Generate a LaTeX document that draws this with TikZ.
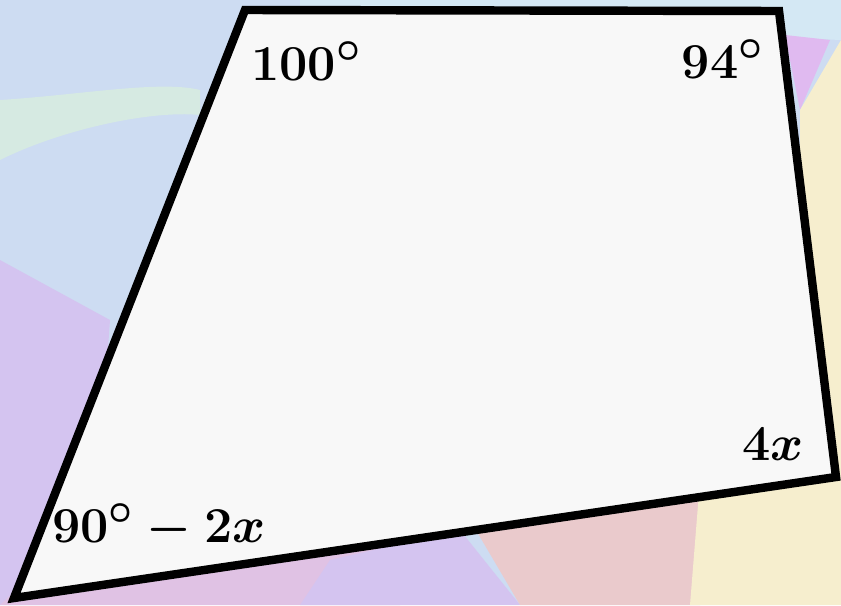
\documentclass[tikz,border=0pt]{standalone}
\usepackage{tikz}
\definecolor{PaleBlue}{RGB}{205,220,242}
\definecolor{PaleCyan}{RGB}{212,232,244}
\definecolor{PaleGreen}{RGB}{214,234,226}
\definecolor{PaleLilac}{RGB}{212,196,240}
\definecolor{PalePink}{RGB}{234,202,204}
\definecolor{PaleRose}{RGB}{224,194,228}
\definecolor{PaleYellow}{RGB}{246,238,206}
\definecolor{PaleViolet}{RGB}{224,186,240}
\definecolor{ShapeFill}{RGB}{248,248,248}
\tikzset{
  bgpatch/.style={draw=none},
  quadline/.style={draw=black,line width=4.8pt,line join=miter,fill=ShapeFill},
  anglelabel/.style={inner sep=0pt,scale=1.15,transform shape,
    font=\fontsize{24.88}{30}\selectfont\boldmath}
}
\begin{document}
\begin{tikzpicture}[x=0.02cm,y=-0.02cm]
      % background
      \fill[PaleBlue] (0,0) rectangle (841,605);
      \useasboundingbox (0,0) rectangle (841,605);
      \fill[bgpatch,PaleCyan] (300,0) -- (841,0) -- (841,40) -- (600,30) -- (300,25) -- cycle;
      \fill[bgpatch,PaleGreen] (0,100) .. controls (80,95) and (160,80) .. (200,90)
        -- (200,115) .. controls (150,110) and (60,130) .. (0,160) -- cycle;
      \fill[bgpatch,PaleLilac] (0,260) -- (110,320) -- (90,605) -- (0,605) -- cycle;
      \fill[bgpatch,PaleRose] (90,520) -- (450,530) -- (400,605) -- (0,605) -- cycle;
      \fill[bgpatch,PaleLilac] (330,560) -- (460,530) -- (520,605) -- (300,605) -- cycle;
      \fill[bgpatch,PalePink] (470,520) -- (700,470) -- (700,605) -- (520,605) -- cycle;
      \fill[bgpatch,PaleViolet] (785,35) -- (830,40) -- (800,110) -- cycle;
      \fill[bgpatch,PaleYellow] (800,110) -- (841,40) -- (841,605) -- (690,605) -- (700,480) -- (800,430) -- cycle;
      % quadrilateral
      \coordinate (tl) at (245,10);
      \coordinate (tr) at (779,11);
      \coordinate (br) at (836,477);
      \coordinate (bl) at (14,598);
      \draw[quadline] (tl) -- (tr) -- (br) -- (bl) -- cycle;
      % angle labels
      \node[anglelabel,anchor=base west] (angA) at (251,80) {$100^\circ$};
      \node[anglelabel,anchor=base east] (angB) at (764,78) {$94^\circ$};
      \node[anglelabel,anchor=base east] (angC) at (804,460) {$4x$};
      \node[anglelabel,anchor=base west] (angD) at (52,542) {$90^\circ-2x$};
    \end{tikzpicture}
\end{document}
